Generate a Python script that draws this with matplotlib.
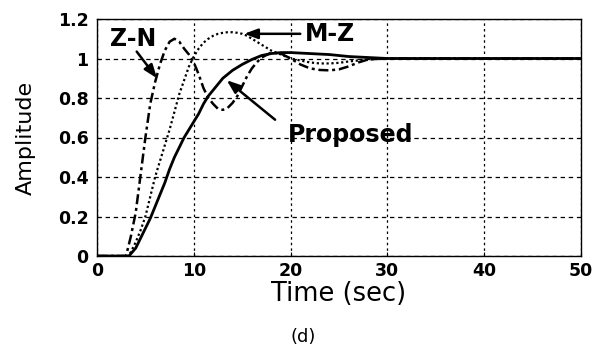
import matplotlib
matplotlib.use("Agg")
import matplotlib.pyplot as plt

# Data
t_zn = [0, 3.0, 3.5, 4.0, 4.5, 5.0, 5.5, 6.0, 6.5, 7.0, 7.5, 8.0, 8.5, 9.0, 9.5, 10, 10.5, 11,
        11.5, 12, 12.5, 13, 13.5, 14, 14.5, 15, 15.5, 16, 16.5, 17, 18, 19, 20, 21, 22, 23, 24,
        25, 26, 27, 28, 30, 35, 40, 50]
y_zn = [0, 0, 0.1, 0.22, 0.41, 0.6, 0.77, 0.88, 0.97, 1.04, 1.085, 1.1, 1.085, 1.05, 1.02, 0.98,
        0.92, 0.85, 0.8, 0.77, 0.745, 0.74, 0.75, 0.775, 0.81, 0.86, 0.91, 0.95, 0.98, 1.005, 1.03,
        1.025, 1.0, 0.97, 0.95, 0.942, 0.94, 0.945, 0.96, 0.98, 0.995, 1.0, 1.0, 1.0, 1.0]

t_mz = [0, 3.2, 3.5, 4, 4.5, 5, 5.5, 6, 6.5, 7, 7.5, 8, 8.5, 9, 9.5, 10, 10.5, 11, 11.5, 12,
        12.5, 13, 13.5, 14, 14.5, 15, 15.5, 16, 17, 18, 19, 20, 21, 22, 23, 24, 25, 26, 27, 28,
        30, 35, 40, 50]
y_mz = [0, 0, 0.02, 0.07, 0.13, 0.2, 0.3, 0.4, 0.48, 0.56, 0.64, 0.73, 0.82, 0.89, 0.96, 1.01,
        1.05, 1.08, 1.1, 1.115, 1.125, 1.13, 1.133, 1.133, 1.13, 1.125, 1.115, 1.1, 1.07, 1.04,
        1.02, 1.0, 0.99, 0.98, 0.975, 0.975, 0.978, 0.985, 0.99, 0.995, 1.0, 1.0, 1.0, 1.0]

t_pr = [0, 3.3, 4, 4.5, 5, 5.5, 6, 6.5, 7, 7.5, 8, 8.5, 9, 9.5, 10, 10.5, 11, 11.5, 12, 12.5,
        13, 14, 15, 16, 17, 18, 19, 20, 22, 24, 26, 28, 30, 35, 40, 50]
y_pr = [0, 0, 0.04, 0.09, 0.14, 0.19, 0.25, 0.31, 0.37, 0.44, 0.5, 0.55, 0.6, 0.64, 0.68, 0.72,
        0.77, 0.81, 0.84, 0.87, 0.9, 0.94, 0.97, 0.995, 1.015, 1.025, 1.03, 1.03, 1.025, 1.02,
        1.01, 1.005, 1.0, 1.0, 1.0, 1.0]

x_ticks = [0, 10, 20, 30, 40, 50]
y_ticks = [0, 0.2, 0.4, 0.6, 0.8, 1.0, 1.2]
y_tick_labels = ["0", "0.2", "0.4", "0.6", "0.8", "1", "1.2"]

fig = plt.figure(figsize=(6.03, 3.52), dpi=100)
ax = fig.add_axes([97 / 603, 1 - 256 / 352, (581 - 97) / 603, (256 - 19) / 352])

ax.plot(t_zn, y_zn, color="black", lw=1.8, linestyle=(0, (4, 1.5, 1.2, 1.5)))
ax.plot(t_mz, y_mz, color="black", lw=1.6, linestyle=(0, (1, 1.2)))
ax.plot(t_pr, y_pr, color="black", lw=2.0, linestyle="-")

ax.set_xlim(0, 50)
ax.set_ylim(0, 1.2)
ax.set_xticks(x_ticks)
ax.set_yticks(y_ticks)
ax.set_yticklabels(y_tick_labels)
for lab in ax.get_xticklabels() + ax.get_yticklabels():
    lab.set_fontweight("bold")
    lab.set_fontsize(12.5)
    lab.set_family("DejaVu Sans")
ax.tick_params(direction="in", length=3, width=0.8, colors="black")
ax.tick_params(axis="y", pad=6)
ax.tick_params(axis="x", pad=4)

ax.xaxis.grid(True, color="black", lw=0.9, linestyle=(0, (2, 2.5)))
ax.yaxis.grid(True, color="black", lw=0.9, linestyle=(0, (3.5, 3)))
for s in ax.spines.values():
    s.set_linewidth(1.0)
    s.set_color("black")

ax.set_xlabel("Time (sec)", fontsize=18.5, family="DejaVu Sans", labelpad=1)
ax.set_ylabel("Amplitude", fontsize=16, family="DejaVu Sans", labelpad=16)

ann_kw = dict(fontsize=17, fontweight="bold", family="DejaVu Sans", ha="center", va="center")
arrow = dict(arrowstyle="-|>,head_length=0.8,head_width=0.3", color="black", lw=1.8,
             shrinkA=0, shrinkB=0)

ax.text(3.7, 1.099, "Z-N", **ann_kw)
ax.annotate("", xy=(6.2, 0.90), xytext=(4.1, 1.035), arrowprops=arrow)

ax.text(24.1, 1.124, "M-Z", **ann_kw)
ax.annotate("", xy=(15.2, 1.125), xytext=(21.0, 1.125), arrowprops=arrow)

ax.text(26.2, 0.613, "Proposed", **ann_kw)
ax.annotate("", xy=(13.4, 0.89), xytext=(18.4, 0.69), arrowprops=arrow)

fig.text(303 / 603, 1 - 337 / 352, "(d)", fontsize=13, family="DejaVu Sans",
         ha="center", va="center")

fig.savefig("out.png", dpi=100)
